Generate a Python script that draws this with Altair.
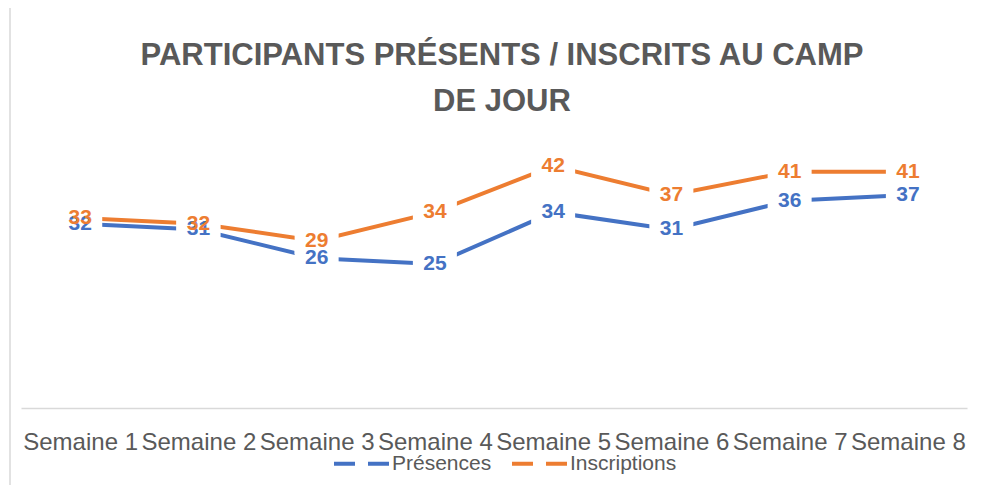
import altair as alt
import pandas as pd

weeks = ["Semaine 1", "Semaine 2", "Semaine 3", "Semaine 4",
         "Semaine 5", "Semaine 6", "Semaine 7", "Semaine 8"]
presences = [32, 31, 26, 25, 34, 31, 36, 37]
inscriptions = [33, 32, 29, 34, 42, 37, 41, 41]
series = ["Présences", "Inscriptions"]
colors = ["#4472C4", "#ED7D31"]
title_lines = ["PARTICIPANTS PRÉSENTS / INSCRITS AU CAMP", "DE JOUR"]

rows = []
for w, p, i in zip(weeks, presences, inscriptions):
    rows.append({"week": w, "serie": series[0], "value": p})
    rows.append({"week": w, "serie": series[1], "value": i})
df = pd.DataFrame(rows)

FONT = "Liberation Sans"

x = alt.X("week:N", sort=weeks, title=None,
          scale=alt.Scale(type="point", padding=0.5),
          axis=alt.Axis(labelAngle=0, ticks=False, tickSize=0, grid=False,
                        domainColor="#D9D9D9", domainWidth=1.5,
                        labelFont=FONT, labelFontSize=24, labelColor="#595959",
                        labelPadding=22, labelOverlap=False, labelLimit=0))
y = alt.Y("value:Q", scale=alt.Scale(domain=[0, 50], nice=False), axis=None)
color = alt.Color("serie:N", scale=alt.Scale(domain=series, range=colors),
                  sort=series, title=None)

base = alt.Chart(df)

lines = base.mark_line(strokeWidth=4).encode(
    x=x, y=y, color=color, detail="serie:N"
)
boxes = base.mark_rect(width=44, height=26, color="white", opacity=1).encode(
    x=x, y=y, detail="serie:N"
)
labels = base.mark_text(font=FONT, fontSize=21, fontWeight="bold",
                        baseline="middle", align="center").encode(
    x=x, y=y, text="value:Q", color=color
)
border = alt.Chart(pd.DataFrame({"v": [0]})).mark_rule(color="#D9D9D9", strokeWidth=1.5).encode(
    x=alt.value(-11), y=alt.value(-120), y2=alt.value(373)
)

tdf = pd.DataFrame({"t": title_lines, "yy": [-55, -9]})
title = alt.Chart(tdf).mark_text(font=FONT, fontSize=31, fontWeight="bold",
                                 color="#595959", align="center",
                                 baseline="alphabetic").encode(
    text="t:N", x=alt.value(481), y=alt.Y("yy:Q", scale=None)
)

chart = alt.layer(border, lines, boxes, labels, title).properties(
    width=946, height=288,
    autosize=alt.AutoSizeParams(type="none"),
    padding={"left": 13, "top": 112, "right": 17, "bottom": 77},
).configure_view(stroke=None).configure_legend(
    orient="none", legendX=311, legendY=314, direction="horizontal",
    symbolType="stroke", symbolSize=3025, symbolStrokeWidth=4,
    symbolDash=[21, 13], labelFont=FONT, labelFontSize=21,
    labelColor="#595959", labelOffset=1, columnPadding=12, padding=0
)

chart.save("out.html", embed_options={"renderer": "svg", "actions": False})
